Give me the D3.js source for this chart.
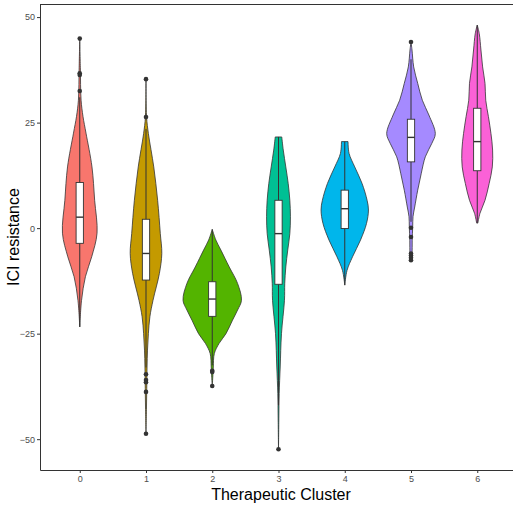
<!DOCTYPE html>
<html>
<head>
<meta charset="utf-8">
<script src="https://cdn.jsdelivr.net/npm/d3@7"></script>
<style>
  body { margin: 0; background: #fff; }
  svg { display: block; font-family: "Liberation Sans", Arial, sans-serif; }
</style>
</head>
<body>
<svg id="chart"></svg>
<script>
// clusters on the x axis and their fill colours (ggplot hue palette)
let clusters = [0, 1, 2, 3, 4, 5, 6]
let fillColors = ["#F8766D", "#C49A00", "#53B400", "#00C094", "#00B6EB", "#A58AFF", "#FB61D7"]
let yTicks = [-50, -25, 0, 25, 50]

// violin outlines: [value, relative density]
let violin0 = [[45, 0], [38, 0.02], [30.3, 0.045], [26.4, 0.11], [22.5, 0.21], [14.5, 0.41], [6.6, 0.5], [-1.2, 0.58], [-6.8, 0.4], [-11.5, 0.19], [-17.1, 0.06], [-23.4, 0]]
let violin1 = [[35.3, 0], [26.3, 0.02], [22.4, 0.08], [14.5, 0.26], [6.6, 0.39], [-1.3, 0.48], [-6, 0.53], [-10.7, 0.45], [-17.1, 0.235], [-21, 0.13], [-25, 0.08], [-28.9, 0.05], [-32.9, 0.035], [-38, 0.025], [-43, 0.015], [-48.7, 0]]
let violin2 = [[-0.3, 0], [-2.8, 0.12], [-5.2, 0.29], [-9.2, 0.57], [-13.1, 0.85], [-17.1, 0.98], [-19.4, 0.85], [-21.8, 0.68], [-25, 0.46], [-27.3, 0.23], [-29.7, 0.07], [-32.9, 0.035], [-35, 0.02], [-37.4, 0]]
let violin3 = [[21.6, 0.11], [18.5, 0.16], [14.5, 0.245], [10.6, 0.325], [6.6, 0.38], [2.7, 0.4], [-1.3, 0.38], [-5.2, 0.31], [-9.2, 0.245], [-13.1, 0.21], [-17.1, 0.2], [-25, 0.1], [-32.9, 0.057], [-39.2, 0.023], [-45, 0.012], [-52.4, 0]]
let violin4 = [[20.5, 0.11], [17.7, 0.145], [14.5, 0.335], [10.6, 0.58], [6.6, 0.75], [4.3, 0.795], [1.1, 0.73], [-2.8, 0.53], [-6.8, 0.26], [-10, 0.077], [-13.5, 0]]
let violin5 = [[44.1, 0], [42.2, 0.034], [38.2, 0.09], [34.3, 0.225], [30.3, 0.38], [26.8, 0.6], [22.4, 0.815], [20.1, 0.7], [16.9, 0.48], [13, 0.345], [9, 0.225], [5, 0.124], [2.7, 0.067], [0.3, 0.057], [-3, 0.04], [-6, 0.035], [-8, 0]]
let violin6 = [[48.1, 0], [46.1, 0.067], [42.2, 0.124], [38.2, 0.18], [34.3, 0.26], [30.3, 0.285], [26.4, 0.375], [22.4, 0.46], [18.5, 0.515], [14.5, 0.505], [10.6, 0.4], [6.6, 0.26], [3.5, 0.09], [1.2, 0.02]]
let violins = [violin0, violin1, violin2, violin3, violin4, violin5, violin6]

// boxplot stats: [lower whisker, q1, median, q3, upper whisker]
let boxStats = [
  [-23.4, -3.6, 2.6, 10.8, 31],
  [-33, -12.3, -6.0, 2.1, 23.5],
  [-32.5, -20.9, -16.8, -12.7, -0.3],
  [-42, -13.3, -1.3, 6.6, 21.6],
  [-13.5, -0.1, 4.6, 9.0, 20.5],
  [1.5, 15.7, 21.5, 25.8, 40],
  [1.2, 13.6, 20.5, 28.4, 48.1]
]

let outliers = [
  [44.9, 36.7, 36.3, 32.5],
  [35.3, 26.3, -34.6, -36.0, -36.5, -38.8, -48.7],
  [-33.8, -34.1, -37.4],
  [-52.4],
  [],
  [44.1, 0.1, -2.1, -6.0, -6.5, -7.0, -7.6],
  []
]

let width = 513
let height = 509
let margin = { top: 4, right: -4, bottom: 39, left: 40 }

let svg = d3.select("#chart")
  .attr("width", width)
  .attr("height", height)

let xScale = d3.scaleLinear()
  .domain([-0.6, 6.6])
  .range([margin.left, width - margin.right])
let yScale = d3.scaleLinear()
  .domain([-57.3, 53.1])
  .range([height - margin.bottom, margin.top])

let step = xScale(1) - xScale(0)
//violin half width: 0.9 of the step in total
let widthScale = d3.scaleLinear().domain([0, 1]).range([0, step * 0.45])
let boxHalf = step * 0.055

let area = d3.area()
  .curve(d3.curveCatmullRom)
  .y(d => yScale(d[0]))

let groups = svg.append("g")
  .selectAll("g")
  .data(clusters)
  .enter().append("g")

groups.append("path")
  .attr("d", (c, i) => area
    .x0(d => xScale(c) - widthScale(d[1]))
    .x1(d => xScale(c) + widthScale(d[1]))(violins[i]))
  .attr("fill", (c, i) => fillColors[i])
  .attr("stroke", "#333333")
  .attr("stroke-width", 0.8)

// whiskers
groups.append("line")
  .attr("x1", c => xScale(c)).attr("x2", c => xScale(c))
  .attr("y1", (c, i) => yScale(boxStats[i][0]))
  .attr("y2", (c, i) => yScale(boxStats[i][1]))
  .attr("stroke", "#333333").attr("stroke-width", 1)
groups.append("line")
  .attr("x1", c => xScale(c)).attr("x2", c => xScale(c))
  .attr("y1", (c, i) => yScale(boxStats[i][3]))
  .attr("y2", (c, i) => yScale(boxStats[i][4]))
  .attr("stroke", "#333333").attr("stroke-width", 1)

groups.append("rect")
  .attr("x", c => xScale(c) - boxHalf)
  .attr("width", boxHalf * 2)
  .attr("y", (c, i) => yScale(boxStats[i][3]))
  .attr("height", (c, i) => yScale(boxStats[i][1]) - yScale(boxStats[i][3]))
  .attr("fill", "#ffffff")
  .attr("stroke", "#333333")
  .attr("stroke-width", 0.9)

groups.append("line")
  .attr("x1", c => xScale(c) - boxHalf).attr("x2", c => xScale(c) + boxHalf)
  .attr("y1", (c, i) => yScale(boxStats[i][2]))
  .attr("y2", (c, i) => yScale(boxStats[i][2]))
  .attr("stroke", "#333333").attr("stroke-width", 1.4)

groups.each(function(c, i) {
  d3.select(this).selectAll("circle")
    .data(outliers[i])
    .enter().append("circle")
    .attr("cx", xScale(c))
    .attr("cy", d => yScale(d))
    .attr("r", 2.3)
    .attr("fill", "#333333")
})

// axes
let axisY = d3.axisLeft(yScale).tickValues(yTicks).tickSize(3).tickSizeOuter(0).tickPadding(2)
  .tickFormat(d => d < 0 ? "\u2212" + Math.abs(d) : d)
let gy = svg.append("g")
  .attr("transform", `translate(${margin.left},0)`)
  .call(axisY)

let axisX = d3.axisBottom(xScale).tickValues(clusters).tickSize(3).tickSizeOuter(0).tickPadding(3)
let gx = svg.append("g")
  .attr("transform", `translate(0,${height - margin.bottom})`)
  .call(axisX)

for (let g of [gx, gy]) {
  g.select(".domain").attr("stroke", "#333333").attr("stroke-width", 1)
  g.selectAll(".tick line").attr("stroke", "#333333")
  g.selectAll(".tick text").attr("fill", "#4d4d4d").style("font-size", "9px")
}

// top border of the panel
svg.append("line")
  .attr("x1", margin.left).attr("x2", width)
  .attr("y1", margin.top + 0.5).attr("y2", margin.top + 0.5)
  .attr("stroke", "#333333").attr("stroke-width", 1)

svg.append("text")
  .attr("x", 281).attr("y", 500)
  .attr("text-anchor", "middle")
  .style("font-size", "16px")
  .text("Therapeutic Cluster")

svg.append("text")
  .attr("transform", "translate(19,237) rotate(-90)")
  .attr("text-anchor", "middle")
  .style("font-size", "16px")
  .text("ICI resistance")
</script>
</body>
</html>
